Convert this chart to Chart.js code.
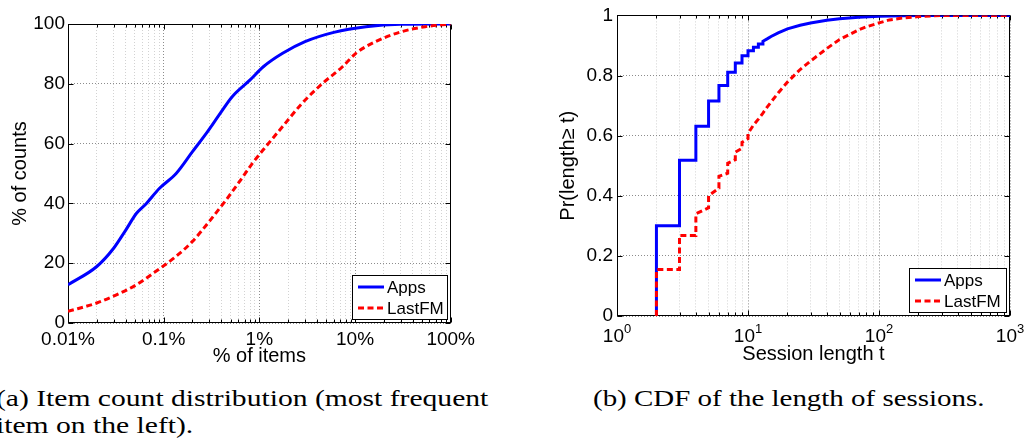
<!DOCTYPE html>
<html>
<head>
<meta charset="utf-8">
<script src="https://cdn.jsdelivr.net/npm/chart.js@4.4.1/dist/chart.umd.min.js"></script>
<style>
  html, body { margin: 0; padding: 0; background: #fff; }
  body { width: 1026px; height: 443px; position: relative; overflow: hidden; }
  .panel { position: absolute; top: 0; }
  .caption { position: absolute; font-family: "Liberation Serif", "Times New Roman", Times, serif; font-size: 24px; line-height: 27px; color: #000; white-space: nowrap; }
  .caption span { display: inline-block; transform-origin: 0 0; }
</style>
</head>
<body>
<div class="panel" style="left:0"><canvas id="itemChart" width="480" height="370"></canvas></div>
<div class="panel" style="left:540px"><canvas id="sessionChart" width="486" height="370"></canvas></div>
<div class="caption" style="left:-4px; top:385px" data-width="492">
  <span>(a) Item count distribution (most frequent</span><br>
  <span>item on the left).</span>
</div>
<div class="caption" style="left:593px; top:385px" data-width="392">
  <span>(b) CDF of the length of sessions.</span>
</div>
<script>
'use strict';

// (a) cumulative share of counts vs. share of items, x in percent
const appsItemX = [0.01, 0.02, 0.03, 0.04, 0.052, 0.066, 0.09, 0.135, 0.2, 0.28, 0.38, 0.52, 0.8, 1.1, 1.75, 3, 6, 13, 30, 100];
const appsItemY = [12.8, 18.9, 25, 31, 36.7, 40, 45, 50, 57.3, 63.5, 69.6, 75.7, 81.3, 85.7, 90.2, 94.1, 97.2, 99.1, 99.9, 100];
const lastfmItemX = [0.01, 0.02, 0.0325, 0.052, 0.083, 0.135, 0.2, 0.3, 0.45, 0.62, 0.85, 1.17, 1.75, 2.8, 4.6, 7.4, 10.2, 16.4, 29, 54, 100];
const lastfmItemY = [3.9, 6.7, 9.5, 12.8, 17.3, 22.3, 27.3, 34, 41.2, 47.3, 53.5, 59, 65.7, 73.5, 80.2, 85.7, 90.2, 94.1, 97.2, 99.1, 100];

// (b) CDF of session lengths; repeated x values are the jumps at short lengths
const appsLenX = [2, 2, 3, 3, 4, 4, 5, 5, 6, 6, 7, 7, 8, 8, 9, 9, 10, 10, 11, 11, 12, 12, 13, 13, 14, 15, 17, 20, 25, 30, 40, 50, 70, 100, 150, 200, 1000];
const appsLenY = [0, 0.30, 0.30, 0.518, 0.518, 0.631, 0.631, 0.715, 0.715, 0.767, 0.767, 0.811, 0.811, 0.842, 0.842, 0.866, 0.866, 0.882, 0.882, 0.894, 0.894, 0.905, 0.905, 0.914, 0.922, 0.93, 0.942, 0.955, 0.967, 0.975, 0.984, 0.989, 0.994, 0.997, 0.999, 1, 1];
const lastfmLenX = [2, 2, 3, 3, 4, 4, 5, 5, 6, 6, 7, 7, 8, 8, 9, 9, 10, 10, 11, 12, 13, 14, 15, 17, 20, 25, 30, 40, 50, 60, 70, 80, 100, 120, 150, 200, 300, 1000];
const lastfmLenY = [0, 0.155, 0.155, 0.268, 0.268, 0.34, 0.36, 0.40, 0.425, 0.465, 0.475, 0.508, 0.52, 0.545, 0.558, 0.578, 0.59, 0.607, 0.635, 0.655, 0.675, 0.695, 0.712, 0.742, 0.778, 0.82, 0.848, 0.89, 0.92, 0.937, 0.952, 0.962, 0.975, 0.985, 0.991, 0.996, 1, 1];

// axis ticks
const itemTickValues = [0.01, 0.1, 1, 10, 100];
const itemTickLabels = ['0.01%', '0.1%', '1%', '10%', '100%'];
const countTicks = [0, 20, 40, 60, 80, 100];
const sessionTickExps = [0, 1, 2, 3];
const probTicks = [0, 0.2, 0.4, 0.6, 0.8, 1];
const probTickLabels = ['0', '0.2', '0.4', '0.6', '0.8', '1'];

const BLUE = '#0000ff';
const RED = '#ff0000';
const FONT = '"Liberation Sans", Arial, sans-serif';

Chart.defaults.font.family = FONT;
Chart.defaults.color = '#000';

function toPoints(xs, ys) {
  return xs.map((x, i) => ({ x: x, y: ys[i] }));
}

// 1..9 x every decade between min and max
function logTicks(min, max) {
  const ticks = [];
  for (let e = Math.floor(Math.log10(min)); e <= Math.ceil(Math.log10(max)); e++) {
    for (let m = 1; m <= 9; m++) {
      const v = +(m * Math.pow(10, e)).toPrecision(6);
      if (v >= min * 0.999 && v <= max * 1.001) ticks.push({ value: v, major: m === 1 });
    }
  }
  return ticks;
}

// black box round the plot + inward tick marks, under the data
const framePlugin = {
  id: 'frame',
  beforeDatasetsDraw(chart) {
    const { ctx, chartArea: a, scales } = chart;
    const L = Math.round(a.left) + 0.5, R = Math.round(a.right) - 0.5;
    const T = Math.round(a.top) + 0.5, B = Math.round(a.bottom) - 0.5;
    ctx.save();
    ctx.strokeStyle = '#000';
    ctx.lineWidth = 1;
    ctx.beginPath();
    scales.x.ticks.forEach(t => {
      const px = Math.round(scales.x.getPixelForValue(t.value)) + 0.5;
      const len = t.major ? 5 : 3;
      ctx.moveTo(px, B); ctx.lineTo(px, B - len);
      ctx.moveTo(px, T); ctx.lineTo(px, T + len);
    });
    scales.y.ticks.forEach(t => {
      const py = Math.round(scales.y.getPixelForValue(t.value)) + 0.5;
      ctx.moveTo(L, py); ctx.lineTo(L + 5, py);
      ctx.moveTo(R, py); ctx.lineTo(R - 5, py);
    });
    ctx.stroke();
    ctx.strokeRect(L, T, R - L, B - T);
    ctx.restore();
  }
};

// boxed legend in the lower right corner of the plot
const boxLegend = {
  id: 'boxLegend',
  afterDraw(chart, args, opts) {
    const { ctx, chartArea: a } = chart;
    const w = opts.width, h = 44;
    const right = Math.round(a.right) - 4, bottom = Math.round(a.bottom) - 4;
    const left = right - w, top = bottom - h;
    ctx.save();
    ctx.fillStyle = '#fff';
    ctx.fillRect(left, top, w, h);
    ctx.strokeStyle = '#000';
    ctx.lineWidth = 1;
    ctx.strokeRect(left + 0.5, top + 0.5, w, h);
    ctx.font = '17px ' + FONT;
    ctx.textBaseline = 'middle';
    chart.data.datasets.forEach((ds, i) => {
      const y = top + 12 + i * 21;
      ctx.beginPath();
      ctx.strokeStyle = ds.borderColor;
      ctx.lineWidth = ds.borderWidth;
      ctx.setLineDash(ds.borderDash || []);
      ctx.moveTo(left + 6, y);
      ctx.lineTo(left + 32, y);
      ctx.stroke();
      ctx.setLineDash([]);
      ctx.fillStyle = '#000';
      ctx.fillText(ds.label, left + 35, y + 1);
    });
    ctx.restore();
  }
};

// 10^n labels under the session-length axis
const powerLabels = {
  id: 'powerLabels',
  afterDraw(chart) {
    const { ctx, scales: { x } } = chart;
    ctx.save();
    ctx.fillStyle = '#000';
    ctx.textBaseline = 'alphabetic';
    sessionTickExps.forEach(e => {
      const px = x.getPixelForValue(Math.pow(10, e));
      ctx.font = '19px ' + FONT;
      const bw = ctx.measureText('10').width;
      ctx.font = '13px ' + FONT;
      const sw = ctx.measureText(String(e)).width;
      const left = px - (bw + sw) / 2;
      ctx.font = '19px ' + FONT;
      ctx.fillText('10', left, x.top + 26);
      ctx.font = '13px ' + FONT;
      ctx.fillText(String(e), left + bw, x.top + 17);
    });
    ctx.restore();
  }
};

const gridColor = ctx => (ctx.tick && ctx.tick.major ? '#8c8c8c' : '#d2d2d2');

function lineSet(label, points, color, dashed, extra) {
  return Object.assign({
    label: label,
    data: points,
    borderColor: color,
    backgroundColor: color,
    borderWidth: 3,
    borderDash: dashed ? [6, 3.5] : [],
    pointRadius: 0,
    fill: false
  }, extra);
}

new Chart(document.getElementById('itemChart'), {
  type: 'line',
  data: {
    datasets: [
      lineSet('Apps', toPoints(appsItemX, appsItemY), BLUE, false, { cubicInterpolationMode: 'monotone', order: 1 }),
      lineSet('LastFM', toPoints(lastfmItemX, lastfmItemY), RED, true, { cubicInterpolationMode: 'monotone', order: 0 })
    ]
  },
  options: {
    responsive: false,
    animation: false,
    layout: { padding: { top: 24, right: 28, left: 0, bottom: 0 } },
    plugins: { legend: { display: false }, tooltip: { enabled: false }, boxLegend: { width: 95 } },
    scales: {
      x: {
        type: 'logarithmic',
        min: 0.01,
        max: 100,
        afterBuildTicks: s => { s.ticks = logTicks(0.01, 100); },
        afterFit: s => { s.height = 47; },
        ticks: {
          autoSkip: false, maxRotation: 0, minRotation: 0, padding: 5,
          font: { size: 19 },
          callback: v => { const i = itemTickValues.indexOf(v); return i >= 0 ? itemTickLabels[i] : ''; }
        },
        grid: { drawTicks: false, color: gridColor, lineWidth: 1 },
        border: { display: false, dash: [1, 2] },
        title: { display: true, text: '% of items', font: { size: 20, lineHeight: 1.2 }, padding: { top: 0, bottom: 2 } }
      },
      y: {
        type: 'linear',
        min: 0,
        max: 100,
        afterBuildTicks: s => { s.ticks = countTicks.map(v => ({ value: v, major: true })); },
        afterFit: s => { s.width = 68; },
        ticks: { padding: 3, font: { size: 19 }, callback: v => String(v) },
        grid: { drawTicks: false, color: '#8c8c8c', lineWidth: 1 },
        border: { display: false, dash: [1, 2] },
        title: { display: true, text: '% of counts', font: { size: 20, lineHeight: 1.2 }, padding: { top: 8, bottom: 0 } }
      }
    }
  },
  plugins: [framePlugin, boxLegend]
});

new Chart(document.getElementById('sessionChart'), {
  type: 'line',
  data: {
    datasets: [
      lineSet('Apps', toPoints(appsLenX, appsLenY), BLUE, false, { order: 1 }),
      lineSet('LastFM', toPoints(lastfmLenX, lastfmLenY), RED, true, { order: 0 })
    ]
  },
  options: {
    responsive: false,
    animation: false,
    layout: { padding: { top: 15, right: 16, left: 0, bottom: 0 } },
    plugins: { legend: { display: false }, tooltip: { enabled: false }, boxLegend: { width: 97 } },
    scales: {
      x: {
        type: 'logarithmic',
        min: 1,
        max: 1000,
        afterBuildTicks: s => { s.ticks = logTicks(1, 1000); },
        afterFit: s => { s.height = 54; },
        ticks: { display: false, autoSkip: false },
        grid: { drawTicks: false, color: gridColor, lineWidth: 1 },
        border: { display: false, dash: [1, 2] },
        title: { display: true, text: 'Session length t', font: { size: 20, lineHeight: 1.2 }, padding: { top: 0, bottom: 4 } }
      },
      y: {
        type: 'linear',
        min: 0,
        max: 1,
        afterBuildTicks: s => { s.ticks = probTicks.map(v => ({ value: v, major: true })); },
        afterFit: s => { s.width = 77; },
        ticks: {
          padding: 4, font: { size: 19 },
          callback: v => { const i = probTicks.indexOf(v); return i >= 0 ? probTickLabels[i] : ''; }
        },
        grid: { drawTicks: false, color: '#8c8c8c', lineWidth: 1 },
        border: { display: false, dash: [1, 2] },
        title: { display: true, text: 'Pr(length\u2265 t)', font: { size: 20, lineHeight: 1.2 }, padding: { top: 16, bottom: 0 } }
      }
    }
  },
  plugins: [framePlugin, boxLegend, powerLabels]
});

// stretch the serif captions to the column width
document.querySelectorAll('.caption').forEach(cap => {
  const spans = cap.querySelectorAll('span');
  const k = +cap.dataset.width / spans[0].offsetWidth;
  spans.forEach(s => { s.style.transform = 'scaleX(' + k + ')'; });
});
</script>
</body>
</html>
